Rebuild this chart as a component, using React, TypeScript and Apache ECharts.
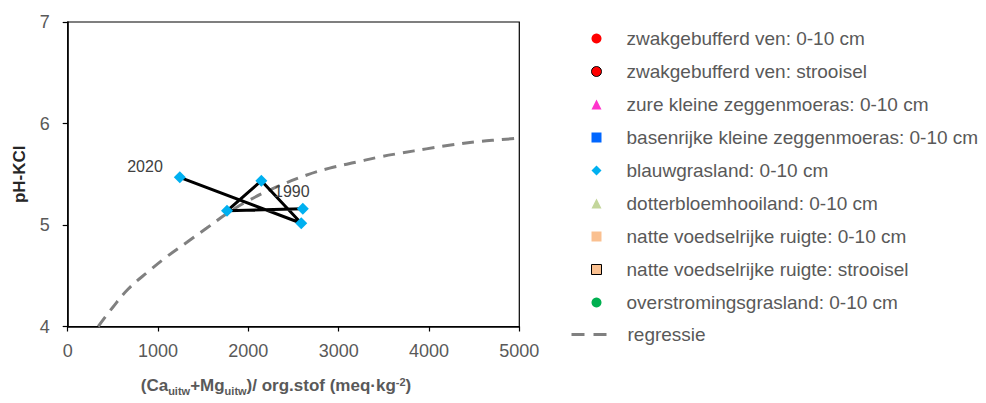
import React, { useEffect, useRef } from "react";
import * as echarts from "echarts";

const FONT = "'Liberation Sans', Arial, Helvetica, sans-serif";

// Legend categories (no data shown in this plot except blauwgrasland)
const seriesNames = [
  "zwakgebufferd ven: 0-10 cm",
  "zwakgebufferd ven: strooisel",
  "zure kleine zeggenmoeras: 0-10 cm",
  "basenrijke kleine zeggenmoeras: 0-10 cm",
  "blauwgrasland: 0-10 cm",
  "dotterbloemhooiland: 0-10 cm",
  "natte voedselrijke ruigte: 0-10 cm",
  "natte voedselrijke ruigte: strooisel",
  "overstromingsgrasland: 0-10 cm",
];
const regressionName = "regressie";

// blauwgrasland measurements, chronological (1990 -> 2020)
const blauwX = [2603, 1764, 2144, 2586, 1241];
const blauwY = [5.16, 5.14, 5.436, 5.017, 5.47];
const blauwYearLabels = ["1990", "", "", "", "2020"];

// regression curve
const regX = [338, 500, 670, 890, 1100, 1320, 1540, 1760, 2000, 2300, 2640, 2900, 3200, 3450, 3700, 3970, 4260, 4520, 4780, 5000];
const regY = [4.0, 4.19, 4.37, 4.54, 4.69, 4.83, 4.97, 5.11, 5.24, 5.37, 5.49, 5.56, 5.62, 5.67, 5.71, 5.75, 5.79, 5.82, 5.84, 5.855];

// axis ranges
const xMin = 0, xMax = 5000, xStep = 1000;
const yMin = 4, yMax = 7, yStep = 1;

export default function App() {
  const ref = useRef<HTMLDivElement>(null);
  useEffect(() => {
    if (!ref.current) return;
    const chart = echarts.init(ref.current, undefined, { renderer: "svg" });

    const symbolStyles: any[] = [
      { symbol: "circle", color: "#ff0000" },
      { symbol: "circle", color: "#ff0000", borderColor: "#000", borderWidth: 1 },
      { symbol: "triangle", color: "#ff33cc" },
      { symbol: "rect", color: "#0066ff" },
      { symbol: "diamond", color: "#00b0f0" },
      { symbol: "triangle", color: "#c3d69b" },
      { symbol: "rect", color: "#fac090" },
      { symbol: "rect", color: "#fac090", borderColor: "#000", borderWidth: 1 },
      { symbol: "circle", color: "#00b050" },
    ];

    const scatterSeries = seriesNames.map((name, i) => {
      const st = symbolStyles[i];
      const isBlauw = i === 4;
      return {
        name,
        type: "scatter",
        symbol: st.symbol,
        symbolSize: isBlauw ? 12 : 9,
        z: 5,
        itemStyle: {
          color: st.color,
          borderColor: st.borderColor,
          borderWidth: st.borderWidth || 0,
          opacity: 1,
        },
        data: isBlauw
          ? blauwX.map((x, k) => ({
              value: [x, blauwY[k]],
              label: {
                show: blauwYearLabels[k] !== "",
                formatter: blauwYearLabels[k],
                position: k === 0 ? "top" : "left",
                offset: k === 0 ? [-11, 2] : [-6, -11],
                fontSize: 16,
                color: "#404040",
                fontFamily: FONT,
              },
            }))
          : [],
      };
    });

    const legendText = { fontSize: 19, color: "#595959", fontFamily: FONT, lineHeight: 18 };

    const option: any = {
      animation: false,
      grid: {
        left: 67.7,
        right: 986 - 519.3,
        top: 22,
        bottom: 403 - 326.5,
        show: true,
        borderColor: "#000",
        borderWidth: 1.2,
        backgroundColor: "transparent",
      },
      xAxis: {
        type: "value",
        min: xMin,
        max: xMax,
        interval: xStep,
        splitLine: { show: false },
        axisLine: { show: true, onZero: false, lineStyle: { color: "#000", width: 1.5 } },
        axisTick: { show: true, length: 5, lineStyle: { color: "#000", width: 1.2 } },
        axisLabel: { fontSize: 18, color: "#595959", fontFamily: FONT, margin: 15, formatter: (v: number) => String(v) },
        name: "(Ca{s|uitw}+Mg{s|uitw})/ org.stof (meq·kg{p|-2})",
        nameLocation: "middle",
        nameGap: 50,
        nameTextStyle: {
          fontSize: 17,
          fontWeight: "bold",
          color: "#595959",
          fontFamily: FONT,
          padding: [0, 35, 0, 0],
          rich: {
            s: { fontSize: 11, fontWeight: "bold", color: "#595959", fontFamily: FONT, verticalAlign: "bottom", padding: [0, 0, -3, 0] },
            p: { fontSize: 11, fontWeight: "bold", color: "#595959", fontFamily: FONT, verticalAlign: "top" },
          },
        },
      },
      yAxis: {
        type: "value",
        min: yMin,
        max: yMax,
        interval: yStep,
        splitLine: { show: false },
        axisLine: { show: true, onZero: false, lineStyle: { color: "#000", width: 1.5 } },
        axisTick: { show: true, length: 5, lineStyle: { color: "#000", width: 1.2 } },
        axisLabel: { fontSize: 18, color: "#595959", fontFamily: FONT, margin: 18 },
        name: "pH-KCl",
        nameLocation: "middle",
        nameGap: 40,
        nameTextStyle: { fontSize: 17, fontWeight: "bold", color: "#262626", fontFamily: FONT },
      },
      legend: [
        {
          orient: "vertical",
          left: 586,
          top: 24,
          itemWidth: 10,
          itemHeight: 10,
          itemGap: 14,
          padding: 5,
          data: seriesNames.map((n, i) =>
            symbolStyles[i].borderColor
              ? { name: n, itemStyle: { borderWidth: 1, borderColor: "#000" } }
              : { name: n }
          ),
          textStyle: { ...legendText, padding: [0, 0, 0, 20] },
          selectedMode: false,
        },
        {
          orient: "vertical",
          left: 565,
          top: 24 + 9 * 32.9,
          itemWidth: 35,
          itemHeight: 10,
          padding: 5,
          data: [regressionName],
          itemStyle: { opacity: 0 },
          lineStyle: { color: "#808080", width: 3, type: [13, 9] },
          textStyle: { ...legendText, padding: [0, 0, 0, 16] },
          selectedMode: false,
        },
      ],
      series: [
        {
          name: regressionName,
          type: "line",
          smooth: 0.4,
          symbol: "none",
          z: 1,
          lineStyle: { color: "#808080", width: 3, type: [12, 8] },
          itemStyle: { color: "#808080" },
          data: regX.map((x, i) => [x, regY[i]]),
        },
        {
          name: "verloop",
          type: "line",
          symbol: "none",
          z: 3,
          lineStyle: { color: "#000", width: 3 },
          data: blauwX.map((x, i) => [x, blauwY[i]]),
        },
        ...scatterSeries,
      ],
    };
    chart.setOption(option);
    return () => chart.dispose();
  }, []);
  return (
    <div
      ref={ref}
      style={{ position: "fixed", left: 0, top: 0, width: 986, height: 403, background: "#fff" }}
    />
  );
}
